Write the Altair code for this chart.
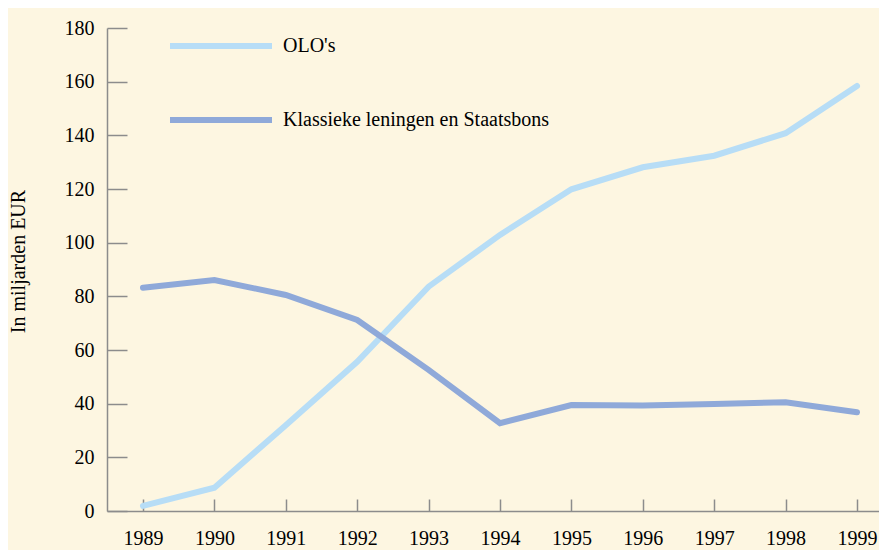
import altair as alt
import pandas as pd

years = list(range(1989, 2000))
olo = [1.9, 8.7, 32.0, 55.6, 83.6, 102.9, 119.9, 128.1, 132.4, 140.8, 158.4]
klassiek = [83.2, 86.1, 80.5, 71.2, 52.6, 32.7, 39.5, 39.3, 39.9, 40.5, 36.8]
series_names = ["OLO's", "Klassieke leningen en Staatsbons"]
colors = ["#b7ddf6", "#8fa9d9"]
y_ticks = list(range(0, 181, 20))

df = pd.DataFrame({
    "year": years * 2,
    "value": olo + klassiek,
    "series": [series_names[0]] * len(years) + [series_names[1]] * len(years),
})

FONT = "Liberation Serif"
AXIS_COLOR = "#8c8c8c"
W, H = 772, 483

xscale = alt.Scale(domain=[1988.496, 1999.308], nice=False, zero=False)
yscale = alt.Scale(domain=[0, 180], nice=False)
cscale = alt.Scale(domain=series_names, range=colors)

legend = alt.Legend(
    title=None, orient="none", legendX=60, legendY=-36, direction="vertical",
    symbolType="stroke", symbolSize=10404, symbolStrokeWidth=6,
    labelOffset=8, labelFont=FONT, labelFontSize=20, labelColor="black",
    labelLimit=0, rowPadding=8, padding=0,
)

x_main = alt.X("year:Q", scale=xscale, axis=alt.Axis(
    values=years, format="d", ticks=False, domain=True, domainColor=AXIS_COLOR,
    domainWidth=1.5, grid=False, labelFont=FONT, labelFontSize=20, labelColor="black",
    labelPadding=17, labelFlush=False, title=None))
y_main = alt.Y("value:Q", scale=yscale, axis=alt.Axis(
    values=y_ticks, ticks=False, domain=True, domainColor=AXIS_COLOR, domainWidth=1.5,
    grid=False, labelFont=FONT, labelFontSize=20, labelColor="black", labelPadding=13,
    title="In miljarden EUR", titleFont=FONT, titleFontSize=20, titleFontWeight="normal",
    titleColor="black", titleAngle=270, titleX=-89, titleY=233, titleAlign="center",
    titleBaseline="middle"))

color_enc = alt.Color("series:N", scale=cscale, legend=legend)

line_olo = alt.Chart(df).transform_filter(
    alt.datum.series == series_names[0]
).mark_line(strokeWidth=6, strokeCap="round").encode(
    x=x_main, y=y_main, color=color_enc)

line_kl = alt.Chart(df).transform_filter(
    alt.datum.series == series_names[1]
).mark_line(strokeWidth=6, strokeCap="round").encode(
    x=alt.X("year:Q", scale=xscale, axis=None),
    y=alt.Y("value:Q", scale=yscale, axis=None),
    color=color_enc)

ticks_layer = alt.Chart(df).mark_point(opacity=0).encode(
    x=alt.X("year:Q", scale=xscale, axis=alt.Axis(
        orient="top", offset=-H, values=years, labels=False, domain=False,
        ticks=True, tickSize=12, tickColor=AXIS_COLOR, tickWidth=1.5, grid=False, title=None)),
    y=alt.Y("value:Q", scale=yscale, axis=alt.Axis(
        orient="right", offset=-W, values=y_ticks, labels=False, domain=False,
        ticks=True, tickSize=20, tickColor=AXIS_COLOR, tickWidth=1.5, grid=False, title=None)),
)

chart = alt.layer(line_olo, line_kl, ticks_layer).resolve_axis(
    x="independent", y="independent"
).properties(
    width=W, height=H,
    autosize=alt.AutoSizeParams(type="none"),
    padding={"left": 99, "top": 20, "right": 0, "bottom": 39},
    background="#fdf6e1",
).configure_view(stroke=None)

chart.save("out.html", embed_options={"renderer": "svg", "actions": False})
